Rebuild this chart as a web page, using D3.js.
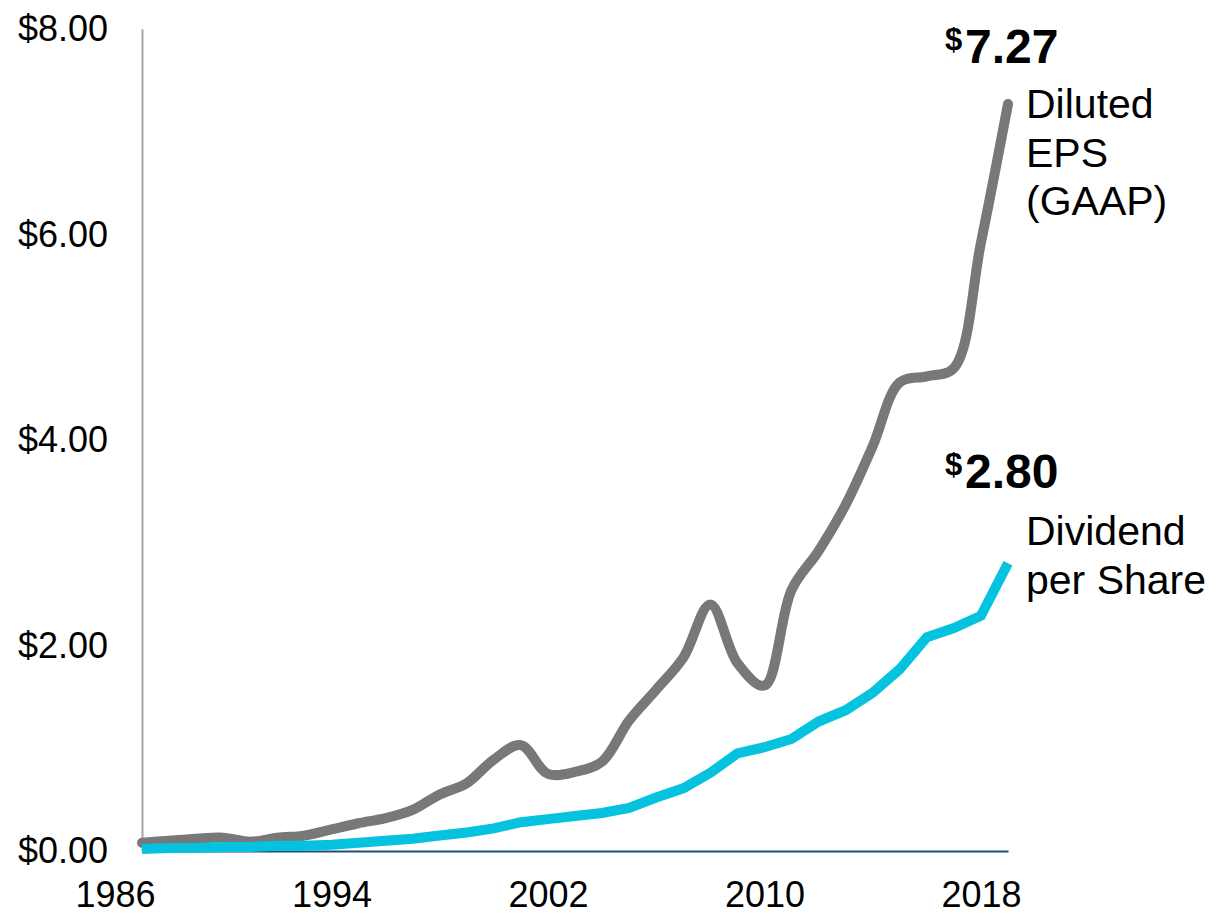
<!DOCTYPE html>
<html lang="en">
    <head>
        <meta charset="utf-8">
        <title>Diluted EPS and Dividend per Share</title>
        <script src="https://cdn.jsdelivr.net/npm/d3@7"></script>
        <style>
            body { margin: 0; background: #fff; }
            text { font-family: "Liberation Sans", Arial, sans-serif; fill: #000; }
        </style>
    </head>
    <body>
        <div id="chart"></div>
        <script>
            // data
            var years = d3.range(1987, 2020);
            var eps = [0.08, 0.10, 0.12, 0.13, 0.09, 0.13, 0.15, 0.21, 0.27, 0.32, 0.40, 0.55, 0.66,
                       0.89, 1.03, 0.75, 0.77, 0.87, 1.27, 1.57, 1.88, 2.40, 1.83, 1.61, 2.54, 2.92,
                       3.37, 3.94, 4.56, 4.62, 4.70, 5.92, 7.27];
            var dividend = [0.02, 0.03, 0.03, 0.04, 0.04, 0.05, 0.05, 0.06, 0.08, 0.10, 0.12, 0.15, 0.18,
                            0.22, 0.28, 0.31, 0.34, 0.37, 0.42, 0.52, 0.61, 0.76, 0.95, 1.01, 1.09, 1.26,
                            1.37, 1.54, 1.77, 2.08, 2.17, 2.29, 2.80];
            var yTicks = [0, 2, 4, 6, 8];
            var xTicks = [1986, 1994, 2002, 2010, 2018];

            var w = 1217, h = 913;
            var svg = d3.select("#chart").append("svg")
                        .attr("width", w)
                        .attr("height", h);

            var xScale = d3.scaleLinear().domain([1987, 2019]).range([142, 1008]);
            var yScale = d3.scaleLinear().domain([0, 8]).range([851, 29]);

            // y axis
            var yAxis = d3.axisLeft(yScale).tickValues(yTicks)
                          .tickFormat(d3.format("$.2f")).tickSize(0).tickPadding(34);
            var gy = svg.append("g").attr("transform", "translate(142,0)").call(yAxis);
            gy.select(".domain").attr("stroke", "#a6a6a6").attr("stroke-width", 2);
            gy.selectAll("text").attr("font-size", 36).style("font-family", "Liberation Sans, Arial, sans-serif");

            // x axis
            var xAxis = d3.axisBottom(xScale).tickValues(xTicks)
                          .tickFormat(d3.format("d")).tickSize(0).tickPadding(30);
            var gx = svg.append("g").attr("transform", "translate(0,851)").call(xAxis);
            gx.select(".domain").attr("stroke", "#1f4e79").attr("stroke-width", 2);
            gx.selectAll("text").attr("font-size", 36).style("font-family", "Liberation Sans, Arial, sans-serif");

            // lines
            var epsLine = d3.line()
                            .x(function(d, i) { return xScale(years[i]); })
                            .y(function(d) { return yScale(d); })
                            .curve(d3.curveCatmullRom.alpha(0.5));
            var divLine = d3.line()
                            .x(function(d, i) { return xScale(years[i]); })
                            .y(function(d) { return yScale(d); });

            svg.append("path").datum(eps)
               .attr("d", epsLine)
               .attr("fill", "none")
               .attr("stroke", "#787878")
               .attr("stroke-width", 10)
               .attr("stroke-linejoin", "round")
               .attr("stroke-linecap", "round");

            svg.append("path").datum(dividend)
               .attr("d", divLine)
               .attr("fill", "none")
               .attr("stroke", "#05c3de")
               .attr("stroke-width", 10)
               .attr("stroke-linejoin", "miter");

            // end labels
            var fmt = d3.format(".2f");
            function endLabel(value, x, y, lines, lineY) {
                svg.append("text").attr("x", x).attr("y", y - 13)
                   .attr("font-size", 31).attr("font-weight", "bold").text("$");
                svg.append("text").attr("x", x + 20).attr("y", y)
                   .attr("font-size", 48).attr("font-weight", "bold").text(fmt(value));
                lines.forEach(function(t, i) {
                    svg.append("text").attr("x", x + 81).attr("y", lineY + i * 48.5)
                       .attr("font-size", 41).text(t);
                });
            }
            endLabel(eps[eps.length - 1], 945, 63, ["Diluted", "EPS", "(GAAP)"], 118);
            endLabel(dividend[dividend.length - 1], 945, 488, ["Dividend", "per Share"], 545);
        </script>
    </body>
</html>
